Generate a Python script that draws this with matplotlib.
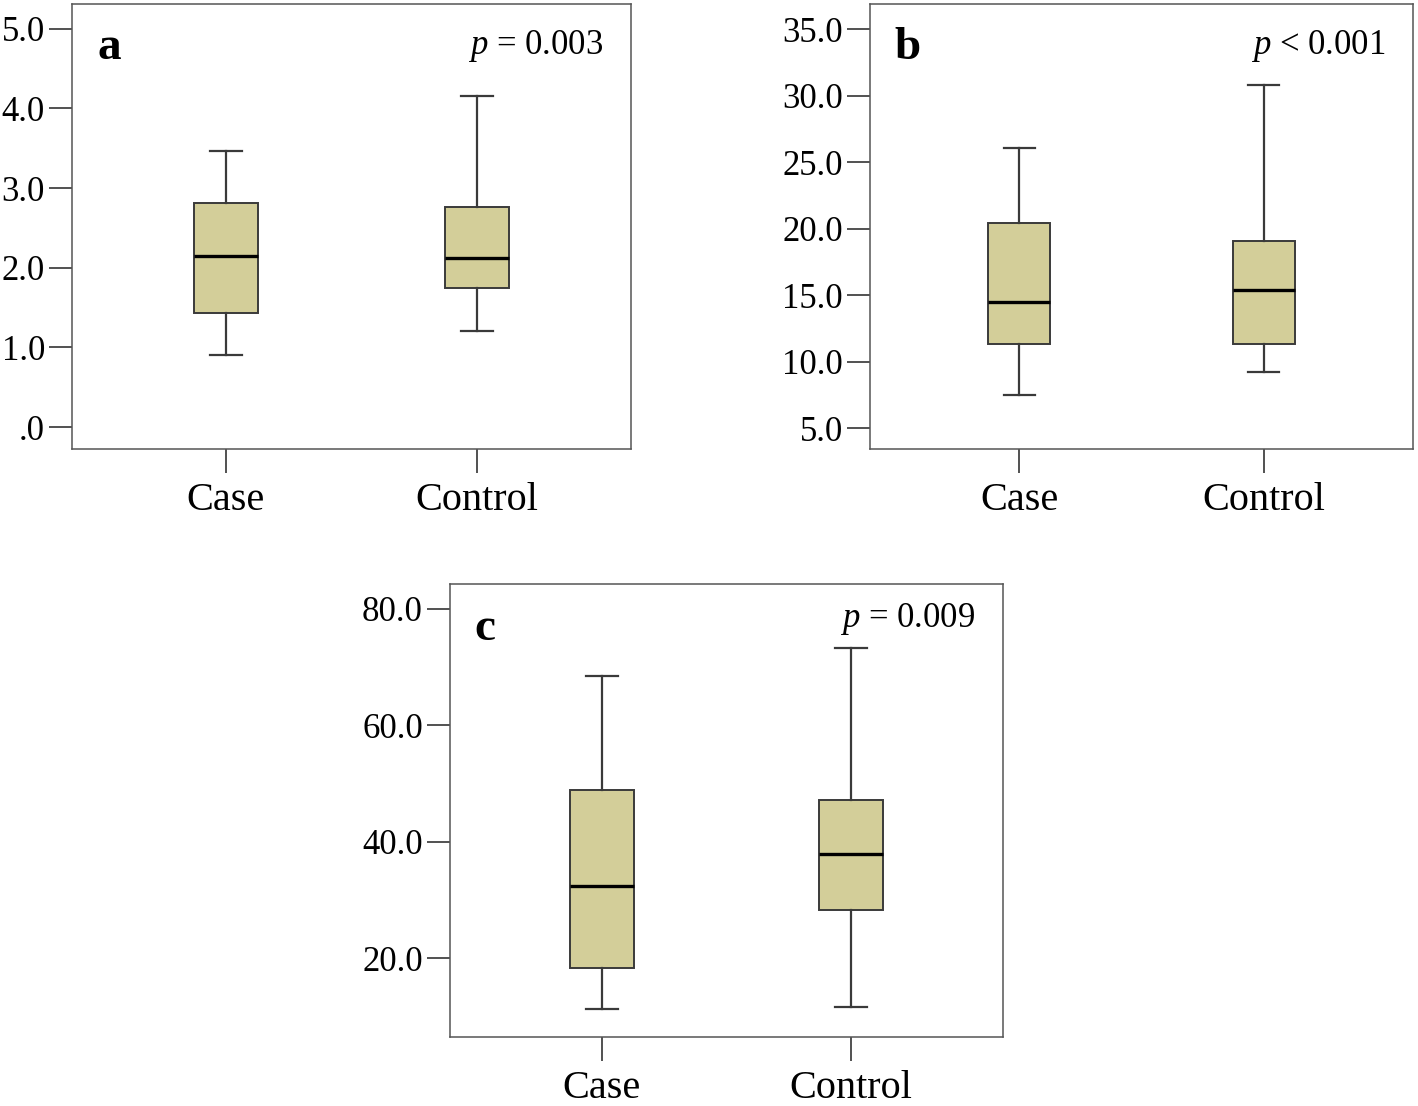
import numpy as np
import matplotlib
matplotlib.use('Agg')
import matplotlib.pyplot as plt

plt.rcParams['font.family'] = ['Liberation Serif', 'DejaVu Serif']
plt.rcParams['mathtext.fontset'] = 'custom'
plt.rcParams['mathtext.rm'] = 'Liberation Serif'
plt.rcParams['mathtext.it'] = 'Liberation Serif:italic'

# data: whisker low, Q1, median, Q3, whisker high
groups = ['Case', 'Control']

a_low = [0.90, 1.21]
a_q1 = [1.43, 1.75]
a_med = [2.15, 2.12]
a_q3 = [2.81, 2.76]
a_high = [3.47, 4.16]

b_low = [7.5, 9.2]
b_q1 = [11.3, 11.3]
b_med = [14.5, 15.4]
b_q3 = [20.4, 19.1]
b_high = [26.1, 30.8]

c_low = [11.2, 11.6]
c_q1 = [18.3, 28.2]
c_med = [32.4, 37.9]
c_q3 = [48.9, 47.2]
c_high = [68.4, 73.3]

a_ticks = [0, 1, 2, 3, 4, 5]
a_labels = ['.0', '1.0', '2.0', '3.0', '4.0', '5.0']
b_ticks = [5, 10, 15, 20, 25, 30, 35]
b_labels = ['5.0', '10.0', '15.0', '20.0', '25.0', '30.0', '35.0']
c_ticks = [20, 40, 60, 80]
c_labels = ['20.0', '40.0', '60.0', '80.0']

fill = '#d3ce99'
edge = '#3a3a3a'
spine = '#555555'


def panel(ax, low, q1, med, q3, high, ticks, labels, ylim, letter, ptext, py=0.905):
    stats = []
    for i in range(len(groups)):
        stats.append(dict(whislo=low[i], q1=q1[i], med=med[i], q3=q3[i],
                          whishi=high[i], label=groups[i]))
    ax.bxp(stats, positions=[1, 2], widths=0.254, capwidths=0.127,
           patch_artist=True, showfliers=False,
           boxprops=dict(facecolor=fill, edgecolor=edge, linewidth=1.4),
           medianprops=dict(color='black', linewidth=2.4),
           whiskerprops=dict(color=edge, linewidth=1.6),
           capprops=dict(color=edge, linewidth=1.6))
    ax.set_xlim(0.39, 2.61)
    ax.set_ylim(*ylim)
    ax.set_yticks(ticks)
    ax.set_yticklabels(labels)
    ax.tick_params(axis='y', length=16.5, width=1.2, color='#333333', pad=3, labelsize=25)
    ax.tick_params(axis='x', length=17, width=1.2, color='#333333', pad=7, labelsize=29)
    for s in ax.spines.values():
        s.set_color(spine)
        s.set_linewidth(1.1)
    ax.text(0.045, 0.90, letter, transform=ax.transAxes, fontsize=34,
            fontweight='bold', va='center', ha='left')
    ax.text(0.95, py, ptext, transform=ax.transAxes, fontsize=25,
            va='center', ha='right')


fig = plt.figure(figsize=(14.18, 11.06), dpi=100)
ax_a = fig.add_axes([0.0508, 0.594, 0.394, 0.4024])
ax_b = fig.add_axes([0.6135, 0.594, 0.383, 0.4024])
ax_c = fig.add_axes([0.3173, 0.0624, 0.390, 0.4096])

panel(ax_a, a_low, a_q1, a_med, a_q3, a_high, a_ticks, a_labels,
      (-0.275, 5.31), 'a', r'$p$ = 0.003')
panel(ax_b, b_low, b_q1, b_med, b_q3, b_high, b_ticks, b_labels,
      (3.42, 36.9), 'b', r'$p$ < 0.001')
panel(ax_c, c_low, c_q1, c_med, c_q3, c_high, c_ticks, c_labels,
      (6.45, 84.3), 'c', r'$p$ = 0.009', py=0.922)

plt.savefig('out.png', dpi=100)
